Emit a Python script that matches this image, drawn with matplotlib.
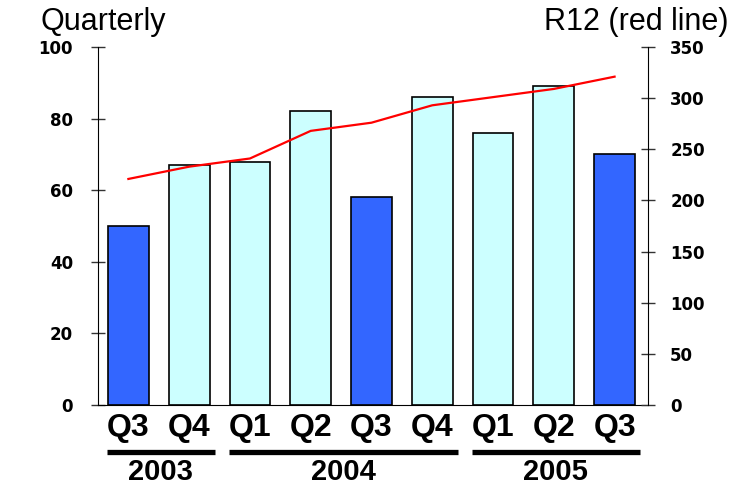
import matplotlib
matplotlib.use('Agg')
import matplotlib.pyplot as plt
import matplotlib.transforms as mtransforms

# Data
quarters = ['Q3', 'Q4', 'Q1', 'Q2', 'Q3', 'Q4', 'Q1', 'Q2', 'Q3']
quarterly = [50, 67, 68, 82, 58, 86, 76, 89, 70]
r12 = [221, 233, 241, 268, 276, 293, 301, 309, 321]
years = ['2003', '2004', '2005']
year_groups = [(0, 1), (2, 5), (6, 8)]

dark = '#3366FF'
light = '#CCFFFF'
colors = [dark if q == 'Q3' else light for q in quarters]

narrow = ['Liberation Sans Narrow', 'Liberation Sans', 'DejaVu Sans']

fig = plt.figure(figsize=(7.36, 4.88), dpi=100)
ax = fig.add_axes([98/736, 1 - 405/488, 550/736, 358/488])

x = list(range(len(quarters)))
ax.bar(x, quarterly, width=0.67, color=colors, edgecolor='black', linewidth=1.2, zorder=2)

ax.set_xlim(-0.5, 8.55)
ax.set_ylim(0, 100)
ax.set_yticks([0, 20, 40, 60, 80, 100])
ax.set_xticks(x)
ax.set_xticklabels(quarters, fontsize=23, fontweight='bold', family=narrow)
ax.tick_params(axis='x', length=0, pad=6)
ax.tick_params(axis='y', direction='inout', length=10, width=1, color='#333333', pad=13,
               labelsize=12)
for lab in ax.get_yticklabels():
    lab.set_fontweight('heavy')
ax.spines['top'].set_visible(False)
ax.spines['right'].set_visible(False)

# R12 line on the right axis
ax2 = ax.twinx()
ax2.plot(x, r12, color='red', linewidth=1.6, zorder=3)
ax2.set_ylim(0, 350)
ax2.set_yticks(range(0, 351, 50))
ax2.tick_params(axis='y', direction='inout', length=10, width=1, color='#333333', pad=11,
                labelsize=12)
for lab in ax2.get_yticklabels():
    lab.set_fontweight('heavy')
ax2.spines['top'].set_visible(False)
ax2.spines['left'].set_visible(False)
ax2.spines['bottom'].set_visible(False)

# Year underlines and labels
trans = mtransforms.blended_transform_factory(ax.transData, ax.transAxes)
for yr, (a, b) in zip(years, year_groups):
    x0, x1 = a - 0.35, b + 0.42
    ax.plot([x0, x1], [-0.131, -0.131], color='black', linewidth=3.8,
            transform=trans, clip_on=False, solid_capstyle='butt')
    ax.text((x0 + x1) / 2, -0.148, yr, transform=trans, ha='center', va='top',
            fontsize=21, fontweight='bold', family=narrow)

fig.text(40/736, 1 - 30/488, 'Quarterly', fontsize=22, family='Liberation Sans', va='baseline')
fig.text(729/736, 1 - 30/488, 'R12 (red line)', fontsize=22, family='Liberation Sans',
         va='baseline', ha='right')

fig.savefig('out.png', dpi=100)
